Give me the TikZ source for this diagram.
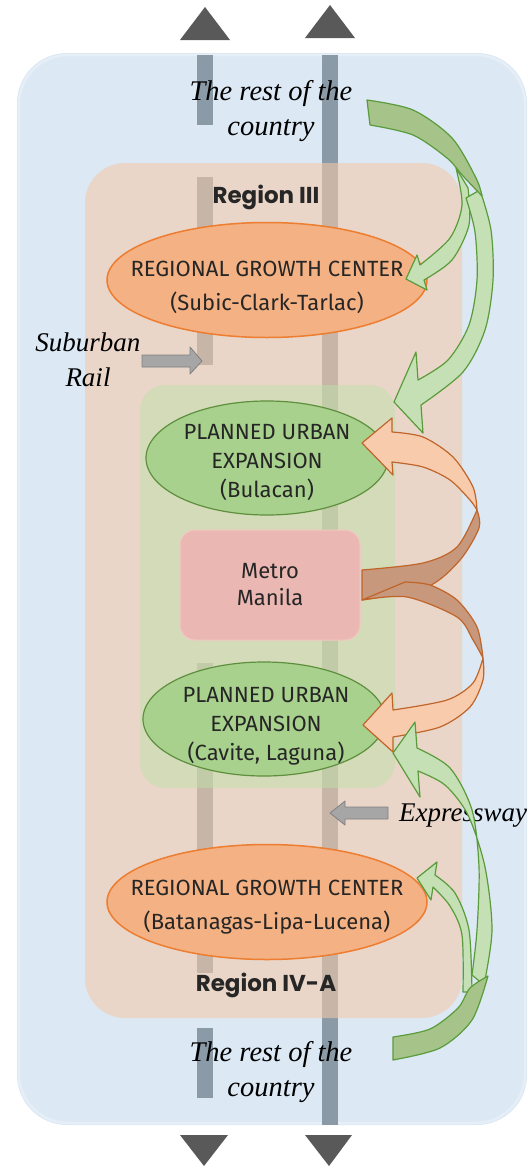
\documentclass[tikz,border=0pt]{standalone}
\usepackage{fontspec}
\usetikzlibrary{shapes.geometric}
\setmainfont{Liberation Serif}
\newfontfamily\condfont{Fira Sans}
\newfontfamily\regionfont{Poppins}

\definecolor{bluebg}{HTML}{DCE8F3}
\definecolor{bluerim}{HTML}{E6EFF8}
\definecolor{peachc}{RGB}{246,202,168}
\definecolor{greenboxc}{RGB}{191,225,170}
\definecolor{barc}{RGB}{138,154,166}
\definecolor{orfill}{HTML}{F4B183}
\definecolor{orline}{HTML}{ED7D31}
\definecolor{grfill}{HTML}{A9D18E}
\definecolor{grline}{HTML}{5E8F3E}
\definecolor{garlight}{HTML}{C5E0B4}
\definecolor{gardark}{HTML}{A6C48A}
\definecolor{garline}{HTML}{5A9B3C}
\definecolor{oarlight}{HTML}{F8CBAD}
\definecolor{oardark}{RGB}{200,152,124}
\definecolor{oarline}{HTML}{C0652A}
\definecolor{metrofill}{HTML}{EBB7B2}
\definecolor{metroline}{HTML}{F2C8C3}
\definecolor{greyarrow}{HTML}{A6A6A6}
\definecolor{greyline}{HTML}{808080}
\definecolor{tri}{HTML}{595959}
\definecolor{inkc}{HTML}{262626}

\newcommand\ellfont{\condfont\fontsize{22}{34}\selectfont}
\newcommand\pueFont{\condfont\fontsize{22}{29}\selectfont}
\newcommand\metroFont{\condfont\fontsize{22}{27}\selectfont}
\newcommand\itFont{\itshape\fontsize{27}{35}\selectfont}
\newcommand\restFont{\itshape\fontsize{28.5}{35}\selectfont}
\newcommand\regFont{\regionfont\bfseries\fontsize{23}{27}\selectfont}

\begin{document}
\begin{tikzpicture}[x=1pt,y=-1pt,
  orangeell/.style={ellipse, draw=orline, fill=orfill, line width=1.5pt,
    minimum width=320pt, minimum height=115pt, inner sep=0pt},
  greenell/.style={ellipse, draw=grline, fill=grfill, line width=1.2pt,
    minimum width=242pt, minimum height=114pt, inner sep=0pt},
  elltext/.style={align=center, text=inkc, font=\ellfont, inner sep=0pt},
  puetext/.style={align=center, text=inkc, font=\pueFont, inner sep=0pt},
  metrobox/.style={rectangle, rounded corners=15pt, draw=metroline, fill=metrofill,
    line width=1pt, minimum width=180pt, minimum height=110pt,
    align=center, text=inkc, font=\metroFont},
  regionlbl/.style={text=inkc, font=\regFont, inner sep=0pt},
  itlbl/.style={align=center, font=\itFont, text=black, inner sep=0pt},
  restlbl/.style={align=center, font=\restFont, text=black, inner sep=0pt},
  greyblock/.style={draw=greyline, fill=greyarrow, line width=0.8pt, line join=round},
  gLight/.style={fill=garlight, draw=garline, line width=1.2pt, line join=round},
  gDark/.style={fill=gardark, draw=garline, line width=1.2pt, line join=round},
  oLight/.style={fill=oarlight, draw=oarline, line width=1.2pt, line join=round},
  oDark/.style={fill=oardark, draw=oarline, line width=1.2pt, line join=round},
  rail/.style={fill=barc},
  tipmark/.style={fill=tri}
]
\useasboundingbox (0,0) rectangle (532,1170);

% outer area: the rest of the country
\fill[bluebg, rounded corners=50pt] (17,53) rectangle (527,1125);
\draw[bluerim, line width=2.5pt, rounded corners=49pt] (19,55) rectangle (525,1123);

% rail lines and expressway
\fill[rail] (197,55) rectangle (213,125);
\fill[rail] (197,177) rectangle (213,365);
\fill[rail] (197,663) rectangle (213,973);
\fill[rail] (197,1028) rectangle (213,1098);
\fill[rail] (322,55) rectangle (338,1125);

% direction marks at the ends of the lines
\fill[tipmark] (180,40) -- (205,7) -- (230,40) -- cycle;
\fill[tipmark] (305,38) -- (330,5) -- (355,38) -- cycle;
\fill[tipmark] (180,1135) -- (204,1166) -- (228,1135) -- cycle;
\fill[tipmark] (305,1135) -- (329,1166) -- (352,1135) -- cycle;

% regions
\fill[peachc, fill opacity=0.57, rounded corners=40pt] (85,163) rectangle (462,1018);
\fill[greenboxc, fill opacity=0.5, rounded corners=25pt] (140,385) rectangle (395,788);

% centres
\node[orangeell] (rgcN) at (267,280) {};
\node[elltext] (rgcNtxt) at (267,287) {REGIONAL GROWTH CENTER\\(Subic-Clark-Tarlac)};
\node[orangeell] (rgcS) at (267,902) {};
\node[elltext] (rgcStxt) at (267,907.5) {REGIONAL GROWTH CENTER\\(Batanagas-Lipa-Lucena)};
\node[greenell] (pueN) at (267,458) {};
\node[puetext] (pueNtxt) at (267,463) {PLANNED URBAN\\EXPANSION\\(Bulacan)};
\node[greenell] (pueS) at (264,719) {};
\node[puetext] (pueStxt) at (266,726) {PLANNED URBAN\\EXPANSION\\(Cavite, Laguna)};
\node[metrobox] (mm) at (270,585) {Metro\\Manila};

\node[regionlbl] (r3) at (266,197) {Region III};
\node[regionlbl] (r4a) at (266,985) {Region IV-A};

% labels
\node[restlbl] (restN) at (271,111) {The rest of the\\country};
\node[restlbl] (restS) at (271,1072) {The rest of the\\country};
\node[itlbl] (sub) at (88,360) {Suburban\\Rail};
\node[itlbl, anchor=west] (expw) at (399,816) {Expressway};

% pointers to the rail line and the expressway
\coordinate (railTip) at (202,361);
\coordinate (expTip) at (330,813);
\path[greyblock] (142,355) -- (190,355) -- (190,347) -- (railTip) -- (190,374)
  -- (190,367) -- (142,367) -- cycle;
\path[greyblock] (388,807) -- (345,807) -- (345,801) -- (expTip) -- (345,825)
  -- (345,819) -- (388,819) -- cycle;

% Metro Manila spill-over to the planned expansion areas
\path[oDark] (362,570) -- plot[smooth] coordinates {(362,570)(423,563)(457,547)(477,510)}
  -- plot[smooth] coordinates {(477,510)(479,528)(460,560)(427,587)(362,600)} -- cycle;
\path[oDark] (362,600) -- plot[smooth] coordinates {(362,600)(407,597)(457,617)(473,640)(483,658)}
  -- plot[smooth] coordinates {(483,658)(477,627)(457,600)(430,585)(405,582)} -- cycle;
\path[oLight] (392,432) -- plot[smooth] coordinates {(392,432)(423,437)(453,457)(473,487)(477,510)}
  -- plot[smooth] coordinates {(477,510)(470,500)(450,480)(423,467)(392,462)}
  -- (393,475) -- (362,443) -- (392,418) -- cycle;
\path[oLight] (483,658) -- plot[smooth] coordinates {(483,658)(483,680)(470,707)(440,727)(393,737)}
  -- (393,752) -- (363,725) -- (392,693) -- (393,710)
  -- plot[smooth] coordinates {(393,710)(447,700)(473,683)(483,658)} -- cycle;

% flows from the rest of the country (north)
\path[gLight] (456,168) -- plot[smooth] coordinates {(456,168)(462,205)(450,238)(420,265)}
  -- (417,255) -- (406,279) -- (427,290) -- (424,280)
  -- plot[smooth] coordinates {(424,280)(452,260)(469,225)(468,188)} -- cycle;
\path[gLight] (480,190) -- plot[smooth] coordinates {(480,190)(491,230)(493,280)(485,330)(463,372)(421,405)}
  -- (423,433) -- (394,402) -- (416,352) -- (418,380)
  -- plot[smooth] coordinates {(418,380)(448,360)(469,325)(477,280)(475,232)(466,198)} -- cycle;
\path[gDark] (367,100) -- plot[smooth] coordinates {(367,100)(413,110)(452,138)(476,178)(482,196)}
  -- plot[smooth] coordinates {(482,196)(463,176)(447,158)(413,135)(370,125)} -- cycle;

% flows from the rest of the country (south)
\path[gLight] (435,875) -- plot[smooth] coordinates {(435,875)(455,893)(469,930)(472,992)}
  -- (463,992) -- plot[smooth] coordinates {(463,992)(462,935)(450,906)(433,887)}
  -- (431,900) -- (417,878) -- (437,862) -- cycle;
\path[gLight] (484,985) -- plot[smooth] coordinates {(484,985)(492,930)(485,867)(468,815)(445,785)(418,771)}
  -- (420,797) -- (393,753) -- (415,722) -- (417,748)
  -- plot[smooth] coordinates {(417,748)(450,768)(472,810)(479,867)(477,930)(472,975)} -- cycle;
\path[gDark] (393,1060) -- plot[smooth] coordinates {(393,1060)(440,1048)(472,1020)(488,976)}
  -- plot[smooth] coordinates {(488,976)(470,988)(458,1008)(430,1029)(393,1037)} -- cycle;
\end{tikzpicture}
\end{document}
